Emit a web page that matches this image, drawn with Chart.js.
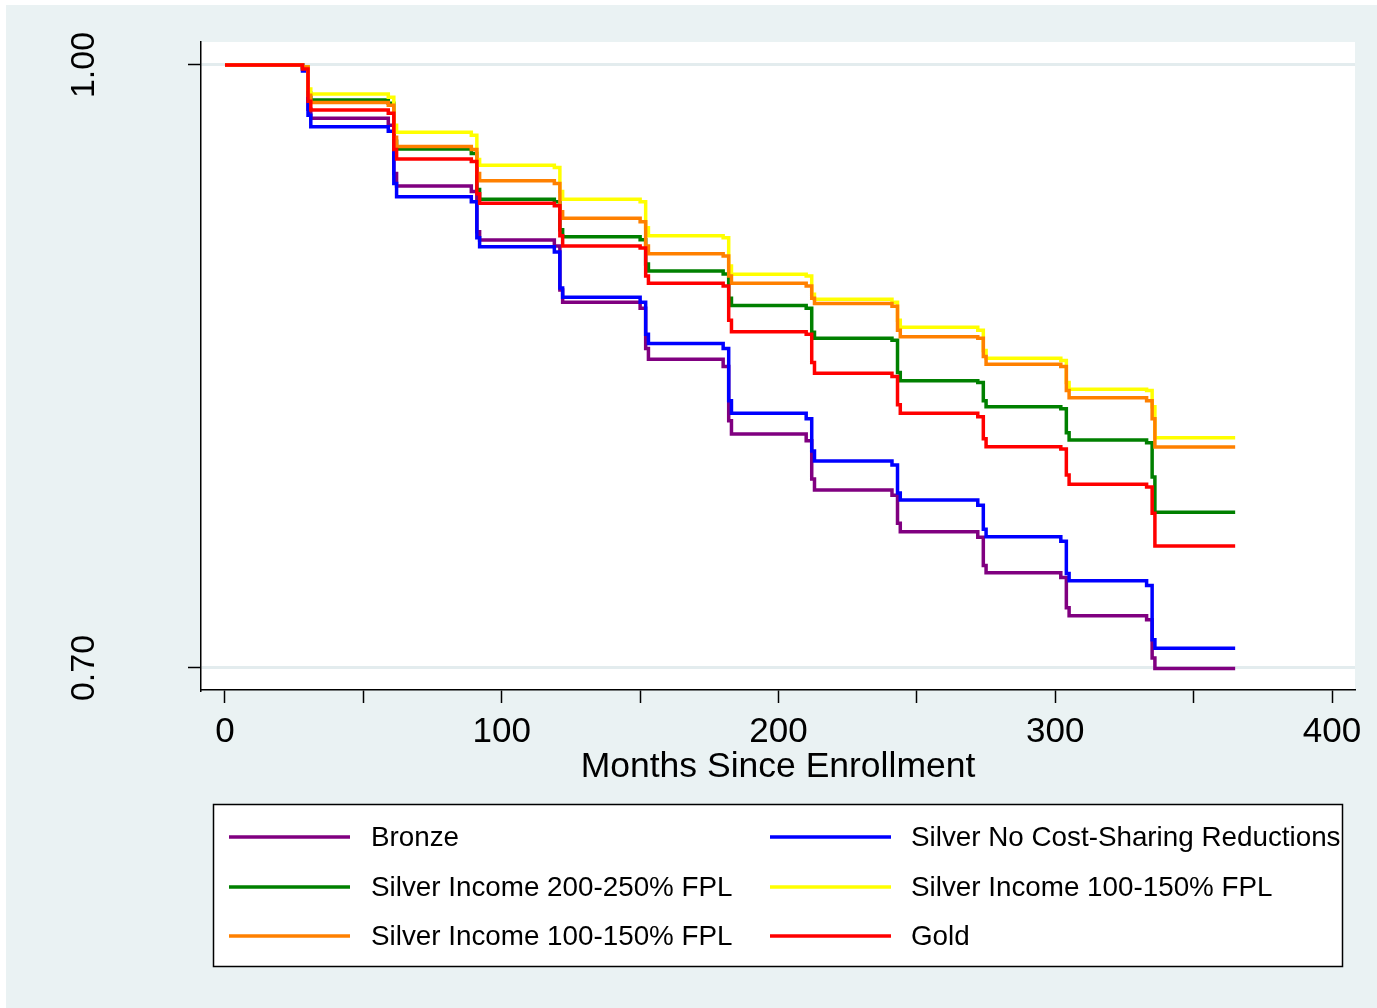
<!DOCTYPE html>
<html>
<head>
<meta charset="utf-8">
<script src="https://cdn.jsdelivr.net/npm/chart.js@4.4.1/dist/chart.umd.min.js"></script>
<style>
  html, body { margin: 0; padding: 0; background: #ffffff; overflow: hidden; }
  #wrap { width: 1377px; height: 1008px; }
</style>
</head>
<body>
<div id="wrap"><canvas id="c" width="1377" height="1008"></canvas></div>
<script>
// ---- data ----
const days = [0,
  28, 30, 31,  59, 61, 62,  89, 91, 92,  119, 121, 122,  150, 152, 153,
  180, 182, 183,  210, 212, 213,  241, 243, 244,  272, 274, 275,
  302, 304, 305,  333, 335, 336,  365];

const bronze = [1,
  0.998, 0.978, 0.9735,  0.970, 0.946, 0.9398,  0.937, 0.917, 0.9129,  0.910, 0.888, 0.8819,
  0.879, 0.859, 0.8536,  0.850, 0.823, 0.8164,  0.813, 0.794, 0.7886,  0.786, 0.772, 0.7678,
  0.765, 0.751, 0.7474,  0.745, 0.730, 0.7260,  0.724, 0.705, 0.6998,  0.6998];

const silverNoCSR = [1,
  0.997, 0.975, 0.9693,  0.967, 0.941, 0.9345,  0.932, 0.914, 0.9096,  0.907, 0.889, 0.8844,
  0.882, 0.866, 0.8615,  0.859, 0.833, 0.8267,  0.824, 0.808, 0.8030,  0.801, 0.787, 0.7836,
  0.781, 0.769, 0.7653,  0.763, 0.747, 0.7434,  0.741, 0.714, 0.7098,  0.7098];

const silver200_250 = [1,
  0.999, 0.986, 0.9826,  0.981, 0.962, 0.9582,  0.956, 0.938, 0.9332,  0.932, 0.918, 0.9146,
  0.913, 0.901, 0.8975,  0.896, 0.884, 0.8803,  0.879, 0.867, 0.8640,  0.863, 0.847, 0.8429,
  0.842, 0.833, 0.8300,  0.829, 0.817, 0.8134,  0.812, 0.795, 0.7775,  0.7775];

const silver100_150y = [1,
  0.999, 0.988, 0.9856,  0.984, 0.970, 0.9665,  0.965, 0.953, 0.9501,  0.949, 0.937, 0.9332,
  0.932, 0.919, 0.9151,  0.914, 0.900, 0.8959,  0.895, 0.886, 0.8834,  0.882, 0.873, 0.8695,
  0.868, 0.858, 0.8541,  0.853, 0.842, 0.8387,  0.838, 0.830, 0.8146,  0.8146];

const silver100_150o = [1,
  0.999, 0.985, 0.9814,  0.980, 0.964, 0.9594,  0.958, 0.946, 0.9424,  0.941, 0.927, 0.9237,
  0.922, 0.910, 0.9061,  0.905, 0.895, 0.8914,  0.890, 0.884, 0.8814,  0.880, 0.868, 0.8648,
  0.864, 0.855, 0.8511,  0.850, 0.838, 0.8345,  0.833, 0.824, 0.8100,  0.8100];

const gold = [1,
  0.998, 0.982, 0.9776,  0.976, 0.958, 0.9532,  0.952, 0.936, 0.9312,  0.930, 0.915, 0.9100,
  0.909, 0.895, 0.8914,  0.890, 0.873, 0.8673,  0.866, 0.852, 0.8466,  0.845, 0.831, 0.8267,
  0.825, 0.814, 0.8101,  0.809, 0.796, 0.7914,  0.790, 0.777, 0.7607,  0.7607];

const seriesLabels = [
  'Bronze',
  'Silver No Cost-Sharing Reductions',
  'Silver Income 200-250% FPL',
  'Silver Income 100-150% FPL',
  'Silver Income 100-150% FPL',
  'Gold'
];
const seriesValues = [bronze, silverNoCSR, silver200_250, silver100_150y, silver100_150o, gold];
const seriesColors = ['#800080', '#0000FF', '#008000', '#FFFF00', '#FF8000', '#FF0000'];
const seriesOrder = [5, 4, 3, 2, 1, 0];

const xTicks = [0, 50, 100, 150, 200, 250, 300, 350, 400];
const xLabeled = [0, 100, 200, 300, 400];
const yTicks = [0.70, 1.00];
const xTitle = 'Months Since Enrollment';

// ---- styling ----
const FONT = "'Liberation Sans', Arial, Helvetica, sans-serif";
const BG = '#EAF2F3';

const bgPlugin = {
  id: 'stataBg',
  beforeDraw(chart) {
    const ctx = chart.ctx, a = chart.chartArea;
    ctx.save();
    ctx.fillStyle = '#ffffff';
    ctx.fillRect(0, 0, chart.width, chart.height);
    ctx.fillStyle = BG;
    ctx.fillRect(6, 5, chart.width - 6, chart.height - 5);
    ctx.fillStyle = '#ffffff';
    ctx.fillRect(a.left, a.top, a.right - a.left, a.bottom - a.top);
    ctx.restore();
  }
};

const legendPlugin = {
  id: 'stataLegend',
  afterDraw(chart) {
    const ctx = chart.ctx;
    ctx.save();
    ctx.fillStyle = '#ffffff';
    ctx.fillRect(213.5, 804.5, 1129, 162);
    ctx.strokeStyle = '#000000';
    ctx.lineWidth = 1.5;
    ctx.strokeRect(213.5, 804.5, 1129, 162);
    const cols = [{lx: 229, lw: 121, tx: 371}, {lx: 770, lw: 121, tx: 911}];
    const rows = [837, 887, 936];
    ctx.font = '27.8px ' + FONT;
    ctx.textBaseline = 'middle';
    ctx.textAlign = 'left';
    chart.data.datasets.forEach((ds, i) => {
      const c = cols[i % 2], r = rows[Math.floor(i / 2)];
      ctx.strokeStyle = ds.borderColor;
      ctx.lineWidth = 3.5;
      ctx.beginPath();
      ctx.moveTo(c.lx, r);
      ctx.lineTo(c.lx + c.lw, r);
      ctx.stroke();
      ctx.fillStyle = '#000000';
      ctx.fillText(ds.label, c.tx, r + 1);
    });
    ctx.restore();
  }
};

const datasets = seriesValues.map((vals, i) => ({
  label: seriesLabels[i],
  data: days.map((d, j) => ({x: d, y: vals[j]})),
  borderColor: seriesColors[i],
  backgroundColor: seriesColors[i],
  borderWidth: 3.5,
  pointRadius: 0,
  stepped: true,
  fill: false,
  order: seriesOrder[i]
}));

new Chart(document.getElementById('c'), {
  type: 'line',
  data: { datasets },
  plugins: [bgPlugin, legendPlugin],
  options: {
    responsive: false,
    animation: false,
    devicePixelRatio: 1,
    layout: { padding: { left: 0, top: 42, right: 22, bottom: 218 } },
    plugins: { legend: { display: false }, tooltip: { enabled: false } },
    scales: {
      x: {
        type: 'linear',
        min: -8.67,
        max: 408.3,
        afterBuildTicks: s => { s.ticks = xTicks.map(v => ({value: v})); },
        afterFit: s => { s.height = 100; s.paddingLeft = 0; s.paddingRight = 0; },
        ticks: {
          autoSkip: false,
          maxRotation: 0,
          padding: 8,
          color: '#000000',
          font: { family: FONT, size: 35 },
          callback: v => (xLabeled.includes(v) ? String(v) : '')
        },
        grid: { drawOnChartArea: false, drawTicks: true, tickLength: 13, tickColor: '#000000', tickWidth: 1.5 },
        border: { display: true, color: '#000000', width: 1.5 },
        title: {
          display: true,
          text: xTitle,
          color: '#000000',
          font: { family: FONT, size: 35.5 },
          padding: { top: 0, bottom: 1 }
        }
      },
      y: {
        type: 'linear',
        min: 0.68905,
        max: 1.01144,
        afterBuildTicks: s => { s.ticks = yTicks.map(v => ({value: v})); },
        afterFit: s => { s.width = 201; s.paddingTop = 0; s.paddingBottom = 0; },
        ticks: {
          autoSkip: false,
          minRotation: 90,
          maxRotation: 90,
          crossAlign: 'center',
          padding: 70,
          color: '#000000',
          font: { family: FONT, size: 34 },
          callback: v => v.toFixed(2)
        },
        grid: { drawOnChartArea: true, color: '#E3ECEE', lineWidth: 3, drawTicks: true, tickLength: 13, tickColor: '#000000', tickWidth: 1.5 },
        border: { display: true, color: '#000000', width: 1.5 }
      }
    }
  }
});
</script>
</body>
</html>
